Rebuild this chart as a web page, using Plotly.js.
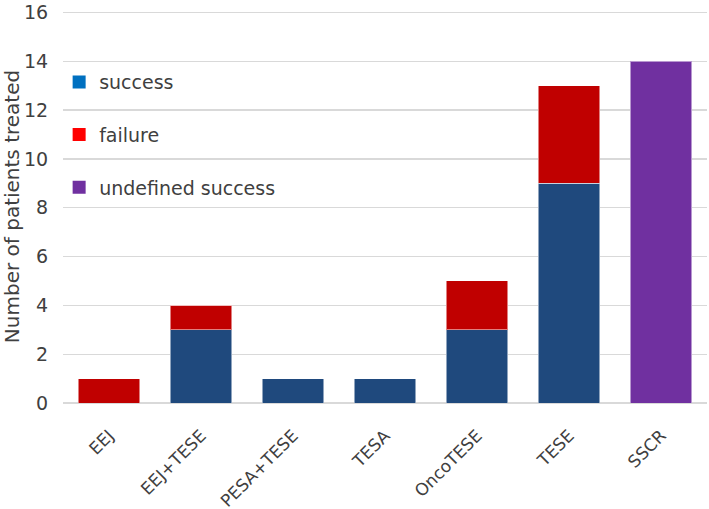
<!DOCTYPE html>
<html>
<head>
<meta charset="utf-8">
<script src="https://cdn.plot.ly/plotly-3.0.1.min.js"></script>
<style>html,body{margin:0;padding:0;background:#fff;}#chart{width:709px;height:509px;}</style>
</head>
<body>
<div id="chart"></div>
<script>
const categories = ["EEJ", "EEJ+TESE", "PESA+TESE", "TESA", "OncoTESE", "TESE", "SSCR"];
const successValues = [0, 3, 1, 1, 3, 9, 0];
const failureValues = [1, 1, 0, 0, 2, 4, 0];
const undefinedValues = [0, 0, 0, 0, 0, 0, 14];
const legendLabels = ["success", "failure", "undefined success"];
const yTicks = [0, 2, 4, 6, 8, 10, 12, 14, 16];

const fontFamily = "'DejaVu Sans', 'Noto Sans', sans-serif";
const barLine = {color: "rgba(255,255,255,0.5)", width: 1};

const traces = [
  {type: "bar", x: categories, y: successValues, marker: {color: "#1F497D", line: barLine}, showlegend: false},
  {type: "bar", x: categories, y: failureValues, marker: {color: "#C00000", line: barLine}, showlegend: false},
  {type: "bar", x: categories, y: undefinedValues, marker: {color: "#7030A0", line: barLine}, showlegend: false},
  {type: "scatter", mode: "markers", x: [null], y: [null], name: legendLabels[0], legendgroup: "a", marker: {symbol: "square", size: 13, color: "#0070C0"}},
  {type: "scatter", mode: "markers", x: [null], y: [null], name: legendLabels[1], legendgroup: "b", marker: {symbol: "square", size: 13, color: "#FF0000"}},
  {type: "scatter", mode: "markers", x: [null], y: [null], name: legendLabels[2], legendgroup: "c", marker: {symbol: "square", size: 13, color: "#7030A0"}}
];

const layout = {
  width: 709, height: 509,
  margin: {l: 63, r: 2, t: 9.5, b: 106},
  paper_bgcolor: "#fff", plot_bgcolor: "#fff",
  barmode: "stack",
  bargap: 0.33,
  font: {family: fontFamily, color: "#404040", size: 18},
  showlegend: true,
  legend: {
    x: -0.006, y: 0.865, xanchor: "left", yanchor: "top",
    bgcolor: "rgba(0,0,0,0)",
    font: {size: 19, color: "#404040", family: fontFamily},
    tracegroupgap: 25,
    itemwidth: 30
  },
  xaxis: {
    type: "category",
    categoryorder: "array", categoryarray: categories,
    tickangle: -45,
    tickfont: {size: 17, color: "#404040"},
    showgrid: false, showline: false, zeroline: false,
    ticks: "outside", ticklen: 15, tickcolor: "rgba(0,0,0,0)"
  },
  yaxis: {
    range: [0, 16.1],
    tickvals: yTicks,
    tickfont: {size: 19, color: "#404040"},
    showgrid: true, gridcolor: "#D9D9D9", gridwidth: 1.2,
    zeroline: true, zerolinecolor: "#D9D9D9", zerolinewidth: 1.2,
    showline: false, ticks: "outside", ticklen: 10, tickcolor: "rgba(0,0,0,0)",
    title: {text: "Number of patients treated", font: {size: 20, color: "#404040"}, standoff: 3}
  }
};

Plotly.newPlot("chart", traces, layout, {displayModeBar: false, staticPlot: true});
</script>
</body>
</html>
